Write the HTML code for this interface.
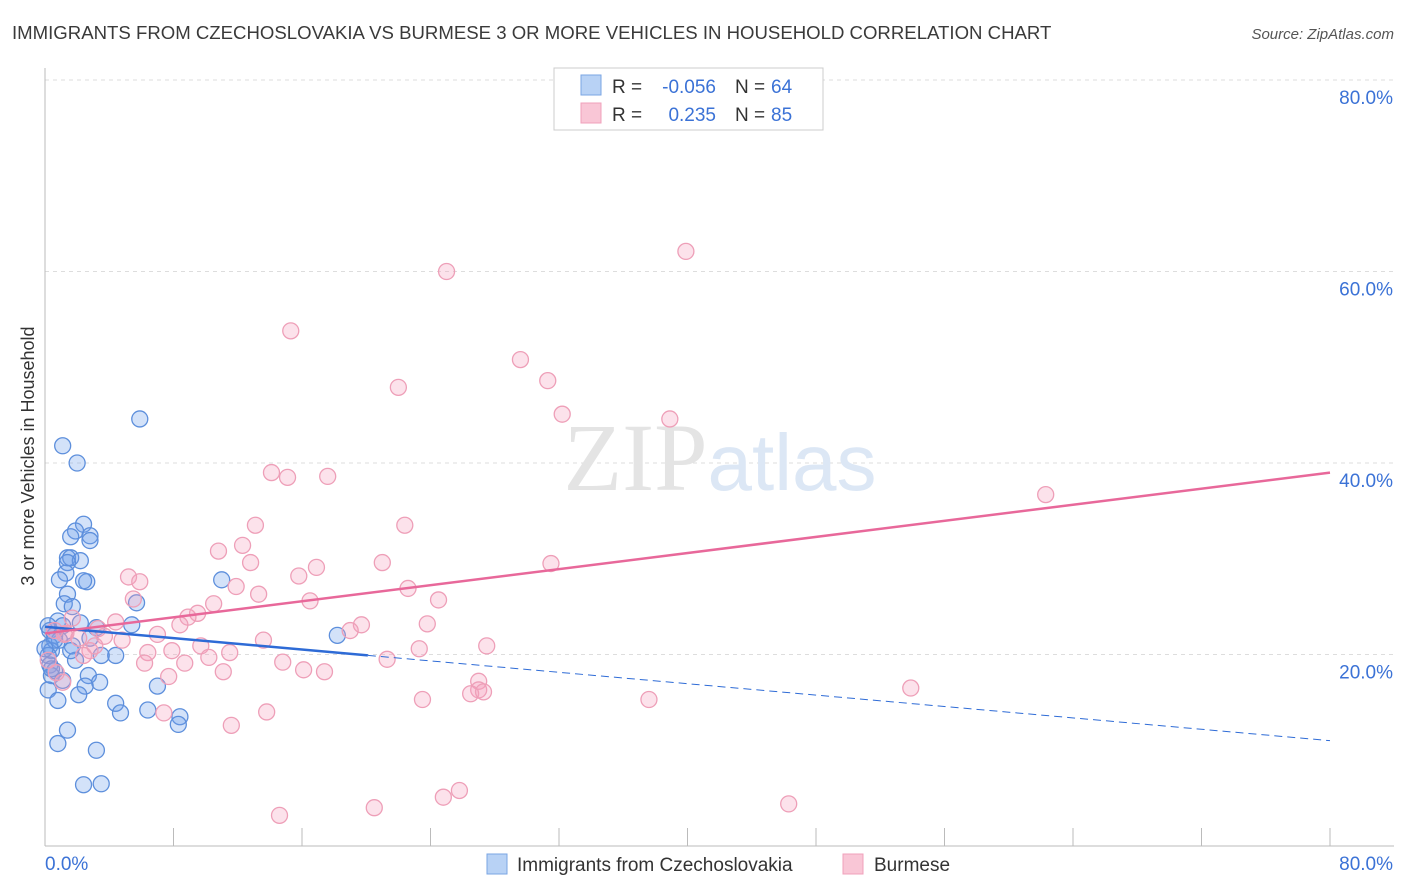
<!DOCTYPE html>
<html><head><meta charset="utf-8"><style>
body{margin:0;background:#fff;font-family:"Liberation Sans",sans-serif;}
svg{display:block}
</style></head><body>
<svg id="chart" width="1406" height="892" xmlns="http://www.w3.org/2000/svg">
<text x="12" y="39" font-size="18.6" fill="#3a3a3a">IMMIGRANTS FROM CZECHOSLOVAKIA VS BURMESE 3 OR MORE VEHICLES IN HOUSEHOLD CORRELATION CHART</text>
<text x="1394" y="39" font-size="15" fill="#555" font-style="italic" text-anchor="end">Source: ZipAtlas.com</text>
<g id="grid"></g>
<text x="720" y="490" font-size="96" text-anchor="middle" font-family="Liberation Serif,serif" fill="#e4e4e4">ZIP<tspan fill="#dce7f5" font-family="Liberation Sans,sans-serif" font-size="80">atlas</tspan></text>
<g id="axes"></g>
<g id="points"></g>
<g id="trends"></g>
<text transform="translate(34,456) rotate(-90)" font-size="18" fill="#333" text-anchor="middle">3 or more Vehicles in Household</text>
<g>
<rect x="554" y="68" width="269" height="62" fill="#fff" stroke="#ccc"/>
<rect x="581" y="75" width="20" height="20" fill="#b8d2f5" stroke="#7aa5e3"/>
<rect x="581" y="103" width="20" height="20" fill="#f9c6d6" stroke="#f0a0bb"/>
<text x="612" y="93" font-size="19" fill="#333">R =</text>
<text x="716" y="93" font-size="19" fill="#3b72d6" text-anchor="end">-0.056</text>
<text x="735" y="93" font-size="19" fill="#333">N =</text>
<text x="771" y="93" font-size="19" fill="#3b72d6">64</text>
<text x="612" y="121" font-size="19" fill="#333">R =</text>
<text x="716" y="121" font-size="19" fill="#3b72d6" text-anchor="end">0.235</text>
<text x="735" y="121" font-size="19" fill="#333">N =</text>
<text x="771" y="121" font-size="19" fill="#3b72d6">85</text>
</g>
<g>
<rect x="487" y="854" width="20" height="20" fill="#b8d2f5" stroke="#7aa5e3"/>
<text x="517" y="871" font-size="19" fill="#333">Immigrants from Czechoslovakia</text>
<rect x="843" y="854" width="20" height="20" fill="#f9c6d6" stroke="#f0a0bb"/>
<text x="874" y="871" font-size="19" fill="#333">Burmese</text>
</g>
</svg>
<script>
const blueX=[5.9,1.1,2.0,2.4,1.9,1.6,2.8,2.8,1.4,1.6,2.2,1.4,1.3,0.9,2.6,2.4,11.0,1.4,1.2,1.7,5.7,0.8,2.2,3.2,5.4,18.2,0.3,0.6,0.9,0.3,0.4,0.2,1.7,2.8,4.4,3.5,1.9,0.3,0.6,0.4,1.1,2.7,3.4,7.0,2.5,0.2,2.1,0.8,4.4,4.7,6.4,8.4,8.3,1.4,0.8,3.2,2.4,3.5,0.6,1.1,0.0,0.2,0.4,1.6];
const blueY=[44.6,41.8,40.0,33.6,32.9,32.3,32.4,31.9,30.1,30.1,29.8,29.6,28.5,27.8,27.6,27.7,27.8,26.3,25.3,25.0,25.4,23.5,23.3,22.8,23.1,22.0,22.5,22.0,21.5,20.9,20.4,19.9,20.9,21.7,19.9,19.9,19.4,18.9,18.3,17.8,17.3,17.8,17.1,16.7,16.7,16.3,15.8,15.2,14.9,13.9,14.2,13.5,12.7,12.1,10.7,10.0,6.4,6.5,21.5,23.0,20.6,23.0,18.5,20.4];
const pinkX=[39.9,25.0,15.3,29.6,31.3,22.0,32.2,38.9,62.3,14.1,15.1,17.6,22.4,13.1,12.3,10.8,12.8,16.9,21.0,31.5,15.8,5.2,5.9,11.9,13.3,22.6,16.5,24.5,5.5,10.5,9.5,8.9,8.4,4.4,3.3,19.7,23.8,19.0,7.0,1.3,2.1,3.7,4.8,13.6,9.7,11.5,7.9,6.4,2.8,2.4,10.2,23.3,27.5,21.3,14.8,6.2,8.7,16.1,17.4,11.1,7.7,1.1,27.0,27.0,26.5,27.3,23.5,37.6,53.9,7.4,13.8,11.6,25.8,24.8,46.3,20.5,14.6,1.2,0.6,0.2,1.7,3.1,0.7];
const pinkY=[62.1,60.0,53.8,50.8,48.6,47.9,45.1,44.6,36.7,39.0,38.5,38.6,33.5,33.5,31.4,30.8,29.6,29.1,29.6,29.5,28.2,28.1,27.6,27.1,26.3,26.9,25.6,25.7,25.8,25.3,24.3,23.9,23.1,23.4,22.7,23.1,23.2,22.5,22.1,22.2,21.7,21.9,21.5,21.5,20.9,20.2,20.4,20.2,20.4,19.9,19.7,20.6,20.9,19.5,19.2,19.1,19.1,18.4,18.2,18.2,17.7,17.1,17.2,16.3,15.9,16.1,15.3,15.3,16.5,13.9,14.0,12.6,5.8,5.1,4.4,4.0,3.2,22.1,22.5,19.4,23.8,20.9,18.1];
const yTicks=[20,40,60,80];
const yTickLabels=["20.0%","40.0%","60.0%","80.0%"];
const xTicks=[0,8,16,24,32,40,48,56,64,72,80];
const blueTrend=[22.9,11.0], blueSolidEnd=20.1;
const pinkTrend=[22.2,39.0];

const X0=45,X1=1330,Y0=846,Y80=80;
const sx=v=>X0+(X1-X0)*v/80;
const sy=v=>Y0-(Y0-Y80)*v/80;
const NS="http://www.w3.org/2000/svg";
function mk(tag,parent,attrs){const e=document.createElementNS(NS,tag);for(const k in attrs)e.setAttribute(k,attrs[k]);document.getElementById(parent).appendChild(e);return e;}
yTicks.forEach((t,i)=>{
 const l=mk('line','grid',{x1:X0,x2:1394,y1:sy(t),y2:sy(t),stroke:'#ddd','stroke-dasharray':'4,4'});
 
 
 const tx=mk('text','axes',{x:1393,y:sy(t)+24,'font-size':19,fill:'#3b72d6','text-anchor':'end'});
 tx.textContent=yTickLabels[i];
 
 
});
const ax=mk('line','axes',{x1:X0,x2:X0,y1:68,y2:Y0,stroke:'#bbb'});


const bx=mk('line','axes',{x1:X0,x2:1394,y1:Y0,y2:Y0,stroke:'#bbb'});


xTicks.forEach(t=>{
 const l=mk('line','axes',{x1:sx(t),x2:sx(t),y1:Y0,y2:Y0-18,stroke:'#bbb'});
 
 
});
const xl0=mk('text','axes',{x:45,y:870,'font-size':19,fill:'#3b72d6'});xl0.textContent='0.0%';


const xl1=mk('text','axes',{x:1393,y:870,'font-size':19,fill:'#3b72d6','text-anchor':'end'});xl1.textContent='80.0%';


blueX.forEach((v,i)=>{
 const c=mk('circle','points',{cx:sx(v),cy:sy(blueY[i]),r:8,fill:'rgba(110,160,235,0.3)',stroke:'#5d8fdc','stroke-width':1.3});
 
 
});
pinkX.forEach((v,i)=>{
 const c=mk('circle','points',{cx:sx(v),cy:sy(pinkY[i]),r:8,fill:'rgba(245,160,190,0.3)',stroke:'#ee9fb8','stroke-width':1.3});
 
 
});
const bAt=x=>blueTrend[0]+(blueTrend[1]-blueTrend[0])*x/80;
const t1=mk('line','trends',{x1:sx(0),y1:sy(bAt(0)),x2:sx(blueSolidEnd),y2:sy(bAt(blueSolidEnd)),stroke:'#2e6bd6','stroke-width':2.5});


const t2=mk('line','trends',{x1:sx(blueSolidEnd),y1:sy(bAt(blueSolidEnd)),x2:sx(80),y2:sy(bAt(80)),stroke:'#2e6bd6','stroke-width':1,'stroke-dasharray':'8,5'});


const t3=mk('line','trends',{x1:sx(0),y1:sy(pinkTrend[0]),x2:sx(80),y2:sy(pinkTrend[1]),stroke:'#e8689a','stroke-width':2.5});


</script>
</body></html>
